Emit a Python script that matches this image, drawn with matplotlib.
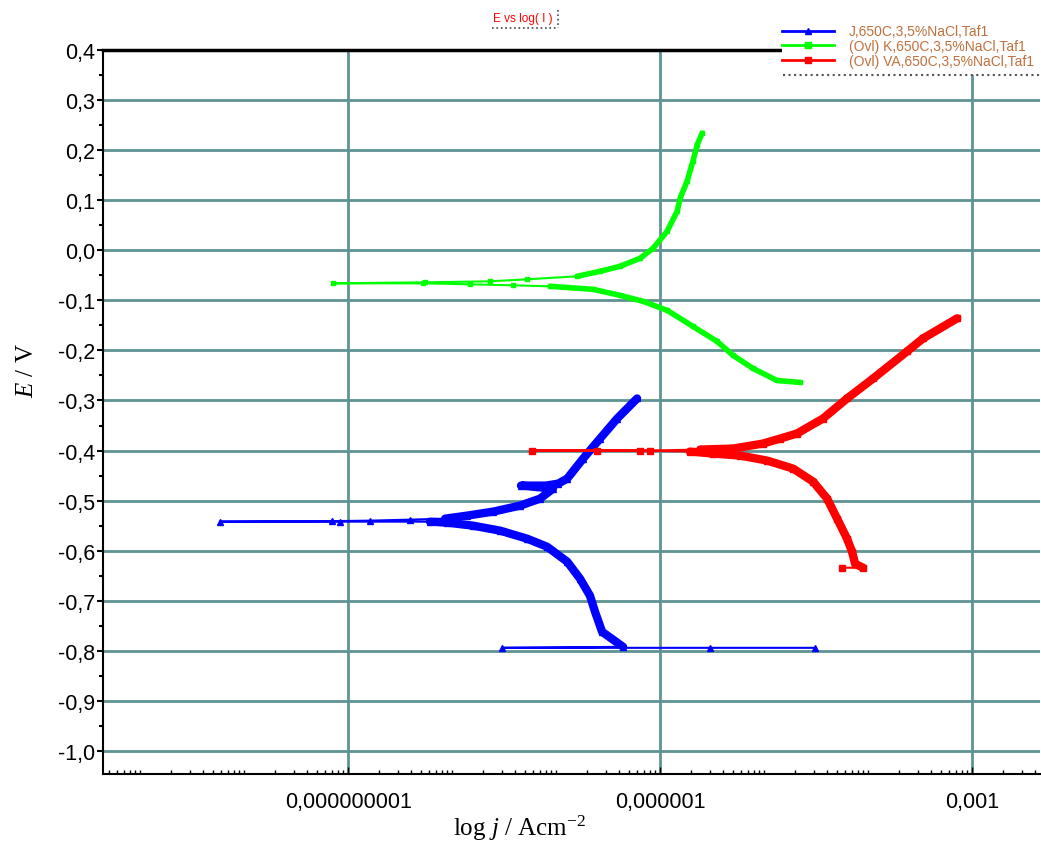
import matplotlib
matplotlib.use('Agg')
import matplotlib.pyplot as plt
from matplotlib.lines import Line2D
from matplotlib.patches import Rectangle
from matplotlib.ticker import FixedLocator, FixedFormatter, LogLocator, MultipleLocator, FuncFormatter, NullFormatter

plt.rcParams['font.family'] = ['Liberation Sans', 'DejaVu Sans']
plt.rcParams['mathtext.fontset'] = 'custom'
plt.rcParams['mathtext.rm'] = 'Liberation Serif'
plt.rcParams['mathtext.it'] = 'Liberation Serif:italic'

# current density [A/cm2] and potential [V]
# J,650C (blue)
j_J = [3.09e-5, 3.03e-6, 3.03e-8, 4.41e-7, 2.77e-7, 2.37e-7, 2.12e-7, 1.70e-7, 1.28e-7, 8.18e-8,
       5.26e-8, 2.90e-8, 1.59e-8, 8.96e-9, 6.13e-9, 8.38e-10, 5.88e-11, 7.02e-10, 1.63e-9, 3.95e-9,
       8.57e-9, 1.39e-8, 2.48e-8, 4.51e-8, 7.02e-8, 9.35e-8, 4.6e-8, 8.0e-8, 1.05e-7, 1.28e-7,
       1.82e-7, 2.65e-7, 3.87e-7, 6.01e-7]
E_J = [-0.794, -0.794, -0.794, -0.792, -0.762, -0.722, -0.690, -0.656, -0.622, -0.592,
       -0.576, -0.560, -0.550, -0.544, -0.542, -0.542, -0.542, -0.541, -0.540, -0.538,
       -0.536, -0.530, -0.522, -0.510, -0.496, -0.476, -0.470, -0.470, -0.466, -0.456,
       -0.416, -0.376, -0.336, -0.296]

# (Ovl) K,650C (green)
j_K = [2.22e-5, 1.33e-5, 7.83e-6, 5.04e-6, 3.53e-6, 2.07e-6, 1.17e-6, 6.87e-7, 4.12e-7, 2.27e-7,
       8.75e-8, 3.87e-8, 1.49e-8, 5.26e-9, 7.18e-10, 5.5e-9, 2.32e-8, 5.26e-8, 1.59e-7, 2.65e-7,
       4.12e-7, 6.43e-7, 8.57e-7, 1.17e-6, 1.46e-6, 1.56e-6, 1.82e-6, 2.07e-6, 2.27e-6, 2.54e-6]
E_K = [-0.264, -0.260, -0.236, -0.210, -0.182, -0.152, -0.120, -0.102, -0.090, -0.078,
       -0.072, -0.070, -0.068, -0.066, -0.066, -0.064, -0.062, -0.058, -0.052, -0.042,
       -0.032, -0.016, 0.004, 0.038, 0.078, 0.104, 0.138, 0.178, 0.210, 0.234]

# (Ovl) VA,650C (red)
j_VA = [5.62e-5, 8.95e-5, 7.50e-5, 7.02e-5, 6.28e-5, 5.04e-5, 4.04e-5, 2.96e-5, 1.90e-5, 1.07e-5,
        5.87e-6, 3.24e-6, 1.94e-6, 6.43e-7, 2.48e-7, 5.87e-8, 8.0e-7, 2.43e-6, 5.04e-6, 9.77e-6,
        1.43e-5, 2.07e-5, 3.69e-5, 6.28e-5, 1.12e-4, 2.37e-4, 3.38e-4, 7.18e-4]
E_VA = [-0.634, -0.634, -0.626, -0.602, -0.576, -0.536, -0.496, -0.462, -0.436, -0.420,
        -0.410, -0.406, -0.402, -0.400, -0.400, -0.400, -0.400, -0.398, -0.396, -0.386,
        -0.376, -0.366, -0.336, -0.296, -0.256, -0.202, -0.176, -0.136]

labels = ["J,650C,3,5%NaCl,Taf1", "(Ovl) K,650C,3,5%NaCl,Taf1", "(Ovl) VA,650C,3,5%NaCl,Taf1"]
xtick_vals = [1e-9, 1e-6, 1e-3]
xtick_labels = ["0,000000001", "0,000001", "0,001"]

W, H = 1041, 853
fig = plt.figure(figsize=(W / 100, H / 100), dpi=100)
ax = fig.add_axes([103 / W, 78 / H, 937 / W, 724 / H])

grid_c = '#5f9393'

# series: (j, E, colour, marker, markersize, thick width, dense slices)
series = [
    (j_J, E_J, '#0000ff', '^', 5, 6, [slice(3, 15), slice(20, None)]),
    (j_K, E_K, '#00ff00', 's', 3, 4, [slice(0, 11), slice(18, None)]),
    (j_VA, E_VA, '#ff0000', 's', 4, 6, [slice(1, 13), slice(17, None)]),
]
for j, E, c, m, ms, lw, dense in series:
    ax.plot(j, E, color=c, lw=1.5, marker=m, ms=ms, zorder=3)
    for s in dense:
        ax.plot(j[s], E[s], color=c, lw=lw, solid_joinstyle='round',
                solid_capstyle='round', zorder=3)

ax.set_xscale('log')
ax.set_xlim(4.4e-12, 4.5e-3)
ax.set_ylim(-1.046, 0.4)

ax.xaxis.set_major_locator(FixedLocator(xtick_vals))
ax.xaxis.set_major_formatter(FixedFormatter(xtick_labels))
ax.xaxis.set_minor_locator(LogLocator(base=10, subs=range(1, 10), numticks=30))
ax.xaxis.set_minor_formatter(NullFormatter())
ax.yaxis.set_major_locator(MultipleLocator(0.1))
ax.yaxis.set_minor_locator(MultipleLocator(0.05))

def comma_fmt(v, pos):
    v = round(v, 1)
    if v == 0:
        v = 0.0
    return f"{v:.1f}".replace('.', ',')

ax.yaxis.set_major_formatter(FuncFormatter(comma_fmt))

ax.tick_params(axis='y', which='major', direction='out', length=4, width=1.5, pad=1.5,
               labelsize=15.5, colors='black')
ax.tick_params(axis='y', which='minor', direction='out', length=3, width=1.5)
ax.tick_params(axis='x', which='major', direction='in', length=5, width=1, pad=12,
               labelsize=15.5)
ax.tick_params(axis='x', which='minor', direction='in', length=3, width=1)

ax.grid(True, which='major', color=grid_c, lw=2, zorder=0)
ax.set_axisbelow(True)

for side in ['left', 'bottom']:
    ax.spines[side].set_linewidth(1.5)
    ax.spines[side].set_color('black')
ax.spines['right'].set_visible(False)
ax.spines['top'].set_visible(False)
# black frame line along the top, stopping where the legend starts
ax.axhline(0.4, xmin=0, xmax=680 / 937, color='black', lw=2.5, zorder=4, clip_on=False)

ax.set_xlabel(r'log $j$ / Acm$^{-2}$', fontsize=18, family='Liberation Serif')
ax.xaxis.set_label_coords(0.445, -0.054)
ax.set_ylabel(r'$E$ / V', fontsize=18, family='Liberation Serif')
ax.yaxis.set_label_coords(-0.069, 0.559)

# white legend panel in the top right corner
fig.add_artist(Rectangle((782 / W, 1 - 76 / H), 1 - 782 / W, 54 / H, facecolor='white',
                         edgecolor='none', transform=fig.transFigure, zorder=5))

handles = [Line2D([], [], color=c, marker=m, ms=4, lw=2) for _, _, c, m, _, _, _ in series]
leg = fig.legend(handles, labels, loc='upper left', bbox_to_anchor=(781 / W, 1 - 24 / H),
                 bbox_transform=fig.transFigure, frameon=False,
                 borderpad=0.1, borderaxespad=0, handlelength=3.7, handletextpad=1.1,
                 labelspacing=0.05, fontsize=10, labelcolor='#c0703c')
leg.set_zorder(10)
fig.add_artist(Line2D([783 / W, 1.0], [1 - 76 / H, 1 - 76 / H], color='#555555', lw=1.5,
                      ls=':', transform=fig.transFigure, zorder=11))

# title box
fig.text(523 / W, 1 - 19 / H, 'E vs log( I )', color='red', fontsize=8.5,
         ha='center', va='center')
fig.add_artist(Line2D([558 / W, 558 / W], [1 - 11 / H, 1 - 29 / H], color='#444444', lw=1.2,
                      ls=':', transform=fig.transFigure))
fig.add_artist(Line2D([492 / W, 558 / W], [1 - 29 / H, 1 - 29 / H], color='#444444', lw=1.2,
                      ls=':', transform=fig.transFigure))

fig.savefig('out.png', dpi=100)
